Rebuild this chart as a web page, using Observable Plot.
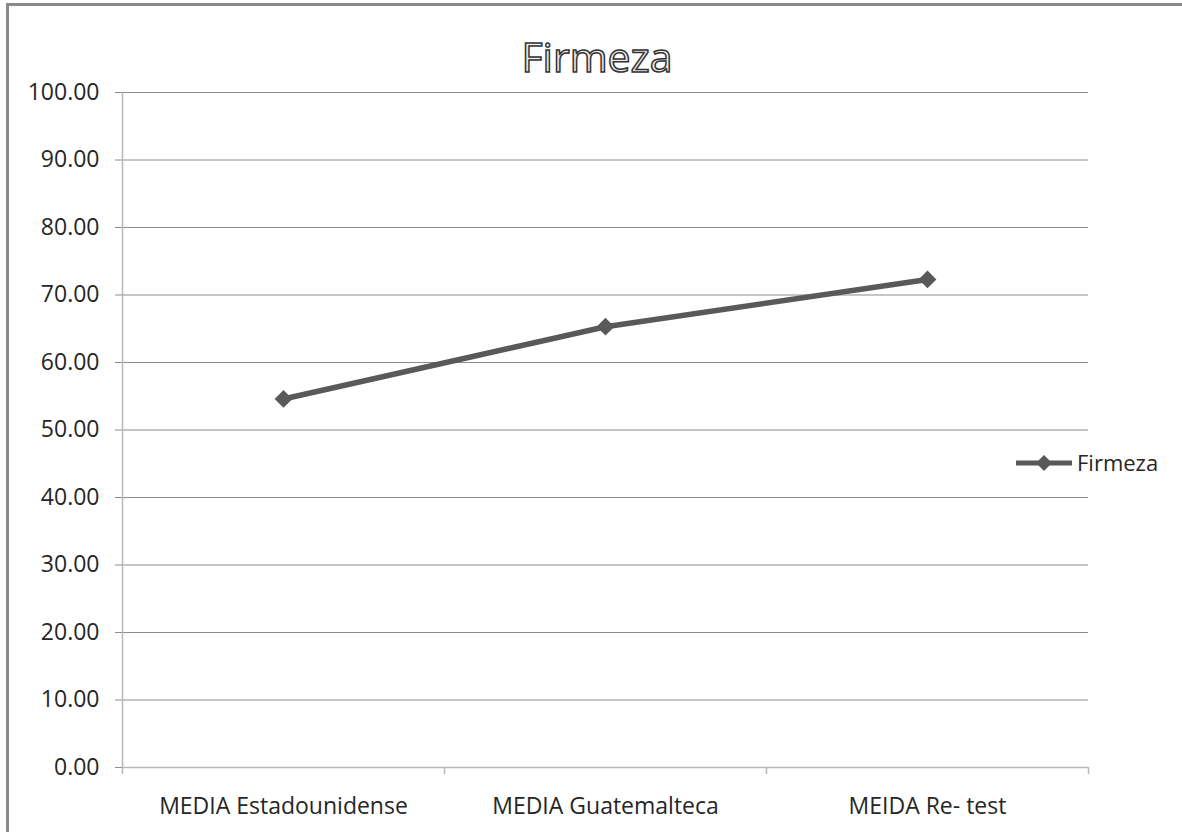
<!DOCTYPE html>
<html>
<head>
<meta charset="utf-8">
<script src="https://cdn.jsdelivr.net/npm/d3@7"></script>
<script src="https://cdn.jsdelivr.net/npm/@observablehq/plot@0.6"></script>
<style>
  html, body { margin: 0; padding: 0; background: #ffffff; }
  #chart { position: relative; width: 1182px; height: 832px; overflow: hidden; font-family: "Open Sans", sans-serif; }
  #frame { position: absolute; left: 6px; top: 3px; right: 0; bottom: 0; border-left: 3px solid #8a8a8a; border-top: 3px solid #8a8a8a; }
  #plot { position: absolute; left: 0; top: 0; }
  #overlay { position: absolute; left: 0; top: 0; pointer-events: none; }
</style>
</head>
<body>
<div id="chart">
  <div id="frame"></div>
  <div id="plot"></div>
  <svg id="overlay" width="1182" height="832"></svg>
</div>
<script>
// Firmeza means per group
const categories = ["MEDIA Estadounidense", "MEDIA Guatemalteca", "MEIDA Re- test"];
const firmeza = [54.6, 65.3, 72.3];
const yTicks = [0, 10, 20, 30, 40, 50, 60, 70, 80, 90, 100];
const chartTitle = "Firmeza";
const seriesName = "Firmeza";

const lineColor = "#595959";
const gridColor = "#8c8c8c";
const axisColor = "#b8b8b8";
const textColor = "#262626";

// each category sits in the middle of its own slot on a 0..n axis
const rows = categories.map((c, i) => ({cat: c, pos: i + 0.5, value: firmeza[i]}));
const boundaries = d3.range(categories.length + 1);

const chart = Plot.plot({
  width: 1182,
  height: 832,
  marginLeft: 122,
  marginRight: 94,
  marginTop: 92,
  marginBottom: 65,
  style: {fontFamily: "'Open Sans', sans-serif", fontSize: "23px", background: "transparent", color: textColor},
  x: {type: "linear", domain: [0, categories.length], axis: null},
  y: {domain: [0, 100], axis: null},
  marks: [
    Plot.ruleY(yTicks.filter(v => v > 0), {stroke: gridColor, strokeWidth: 1}),
    Plot.ruleX([0], {y1: 0, y2: 100, stroke: axisColor, strokeWidth: 1.5}),
    Plot.ruleY([0], {stroke: axisColor, strokeWidth: 1.5}),
    Plot.axisY({
      ticks: yTicks, tickSize: 7, tickPadding: 16, label: null,
      tickFormat: d => d.toFixed(2), stroke: gridColor, fill: textColor, fontSize: 23
    }),
    Plot.axisX({
      ticks: boundaries, tickSize: 7, tickFormat: () => "", label: null, stroke: axisColor, strokeWidth: 1.5
    }),
    Plot.axisX({
      ticks: rows.map(d => d.pos), tickSize: 0, tickPadding: 30, label: null,
      tickFormat: v => categories[Math.floor(v)], fill: textColor, fontSize: 23
    }),
    Plot.line(rows, {x: "pos", y: "value", stroke: lineColor, strokeWidth: 5.5}),
    Plot.dot(rows, {x: "pos", y: "value", symbol: "diamond2", r: 8, fill: lineColor, stroke: null})
  ]
});
document.getElementById("plot").appendChild(chart);

// title and legend
const overlay = d3.select("#overlay");
overlay.append("text")
  .attr("x", 597).attr("y", 72)
  .attr("text-anchor", "middle")
  .attr("font-family", "'Open Sans', sans-serif")
  .attr("font-size", 41)
  .attr("fill", "#ececec")
  .attr("stroke", "#333333")
  .attr("stroke-width", 1.5)
  .text(chartTitle);

const legend = overlay.append("g").attr("transform", "translate(1016,463)");
legend.append("line").attr("x1", 0).attr("x2", 56).attr("y1", 0).attr("y2", 0)
  .attr("stroke", lineColor).attr("stroke-width", 5);
legend.append("path").attr("d", "M28,-8L36,0L28,8L20,0Z").attr("fill", lineColor);
legend.append("text").attr("x", 61).attr("y", 8)
  .attr("font-family", "'Open Sans', sans-serif").attr("font-size", 22)
  .attr("fill", textColor).text(seriesName);
</script>
</body>
</html>
